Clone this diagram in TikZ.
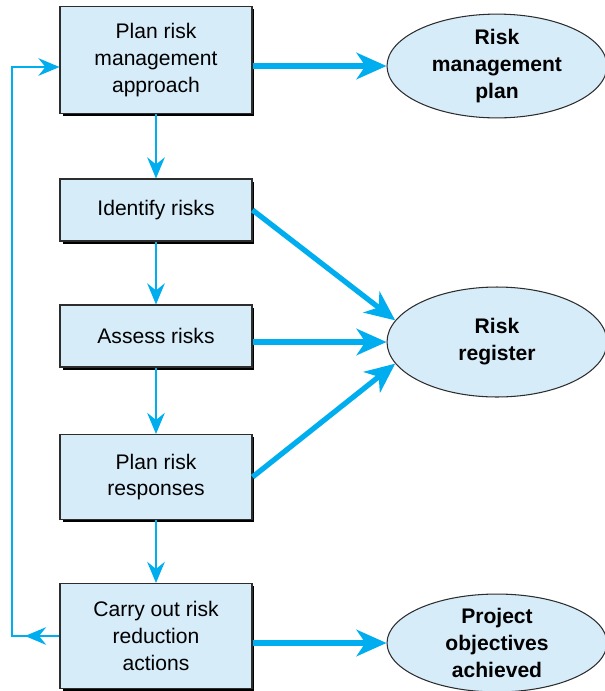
\documentclass[tikz,border=0pt]{standalone}
\usepackage{fontspec}
\setmainfont{Liberation Sans}
\usetikzlibrary{arrows.meta, shapes.geometric, shadows}
\definecolor{boxfill}{RGB}{214,236,249}
\definecolor{flowblue}{RGB}{0,174,239}
\definecolor{edgegray}{RGB}{45,45,45}
\tikzset{
    paso/.style={draw=edgegray, fill=boxfill, line width=0.6pt, minimum width=3.84cm,
        align=center, font=\fontsize{12}{15.3}\selectfont,
        drop shadow={shadow xshift=0.05cm, shadow yshift=-0.05cm, fill=black, opacity=1}},
    salida/.style={ellipse, draw=edgegray, fill=boxfill, line width=0.6pt, inner sep=0pt,
        minimum width=4.4cm, align=center, font=\fontsize{12}{15.3}\selectfont\bfseries},
    flujo/.style={draw=flowblue, line width=1.4pt, -{Stealth[length=12pt, width=10pt, inset=4pt]}},
    flujogrueso/.style={draw=flowblue, line width=3pt, -{Stealth[length=17pt, width=15pt, inset=5pt]}},
}
\begin{document}
\begin{tikzpicture}[x=0.02cm, y=-0.02cm]
\useasboundingbox (0,0) rectangle (605,691);
\clip (0,0) rectangle (605,691);

% pasos del proceso
\node[paso, minimum height=2.14cm] (plan) at (156,60) {Plan risk\\management\\approach};
\node[paso, minimum height=1.24cm] (ident) at (156,210) {Identify risks};
\node[paso, minimum height=1.24cm] (eval) at (156,336) {Assess risks};
\node[paso, minimum height=1.70cm] (resp) at (156,477) {Plan risk\\responses};
\node[paso, minimum height=2.10cm] (accion) at (156,636) {Carry out risk\\reduction\\actions};

% resultados
\node[salida, minimum height=1.90cm] (rmp) at (497,66) {Risk\\management\\plan};
\node[salida, minimum height=2.20cm] (reg) at (497,342) {Risk\\register};
\node[salida, minimum height=1.90cm] (obj) at (497,643) {Project\\objectives\\achieved};

% secuencia
\draw[flujo] (plan) -- (ident);
\draw[flujo] (ident) -- (eval);
\draw[flujo] (eval) -- (resp);
\draw[flujo] (resp) -- (accion);

% realimentacion
\coordinate (lazo) at (12,67);
\coordinate (punta) at (25,636);
\draw[flujo] (accion.west) -| (lazo) -- (lazo -| plan.west);
\draw[flujo] (accion.west) -- (punta);

% salidas
\draw[flujogrueso] (plan.east |- rmp.west) -- (rmp.west);
\draw[flujogrueso] (ident.east) -- (reg.168);
\draw[flujogrueso] (eval.east |- reg.west) -- (reg.west);
\draw[flujogrueso] (resp.east) -- (reg.192);
\draw[flujogrueso] (accion.east |- obj.west) -- (obj.west);
\end{tikzpicture}
\end{document}
